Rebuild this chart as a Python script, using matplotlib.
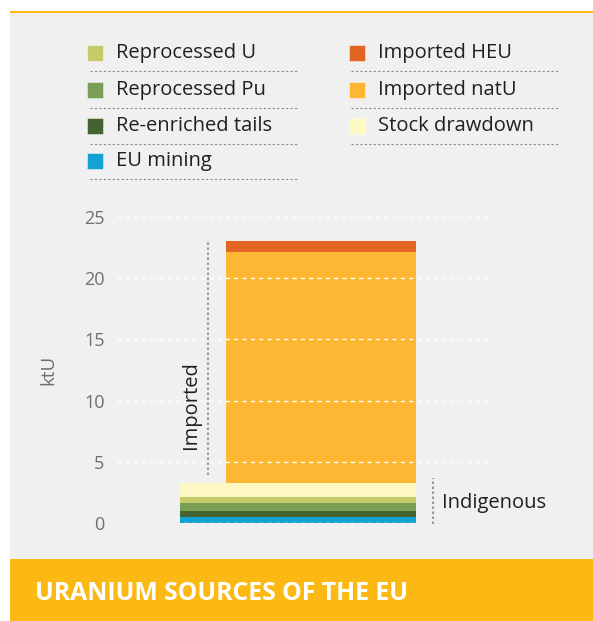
import matplotlib
matplotlib.use("Agg")
import matplotlib.pyplot as plt
from matplotlib.patches import Rectangle
from matplotlib.lines import Line2D

# ---- data (ktU) ----
indigenous_labels = ["EU mining", "Re-enriched tails", "Reprocessed Pu", "Reprocessed U", "Stock drawdown"]
indigenous_values = [0.46, 0.49, 0.65, 0.49, 1.14]
indigenous_colors = ["#12a3d3", "#436330", "#7a9e55", "#c5cb68", "#fef8c2"]

imported_labels = ["Imported natU", "Imported HEU"]
imported_values = [18.9, 0.9]
imported_colors = ["#fdb732", "#e26524"]

yticks = [0, 5, 10, 15, 20, 25]

legend_col1 = ["Reprocessed U", "Reprocessed Pu", "Re-enriched tails", "EU mining"]
legend_col1_colors = ["#c5cb68", "#7a9e55", "#436330", "#12a3d3"]
legend_col2 = ["Imported HEU", "Imported natU", "Stock drawdown"]
legend_col2_colors = ["#e26524", "#fdb732", "#fef8c2"]

title = "URANIUM SOURCES OF THE EU"

W, H = 593, 621
FONT = "Open Sans"
fig = plt.figure(figsize=(W / 100, H / 100), dpi=100)
fig.patch.set_facecolor("white")

def fx(px):
    return px / W

def fy(py):
    return 1 - py / H

# background panel
fig.patches.append(Rectangle((fx(10), fy(559)), fx(583), (559 - 12) / H,
                             transform=fig.transFigure, facecolor="#f0f0f0", edgecolor="none", zorder=-5))
fig.patches.append(Rectangle((fx(10), fy(13)), fx(583), 2 / H,
                             transform=fig.transFigure, facecolor="#fdb913", edgecolor="none", zorder=-4))
# banner
fig.patches.append(Rectangle((fx(10), 0), fx(583), (621 - 559) / H,
                             transform=fig.transFigure, facecolor="#fdb913", edgecolor="none", zorder=-4))
fig.text(fx(35), fy(593), title, color="white", fontsize=17.8, fontweight="bold",
         family=FONT, va="center", ha="left")

# axes
ax_left, ax_right, y0, y25 = 117, 492, 523, 217
ax = fig.add_axes([fx(ax_left), fy(y0), (ax_right - ax_left) / W, (y0 - y25) / H])
ax.set_zorder(2)
ax.set_facecolor("none")
ax.set_xlim(0, ax_right - ax_left)
ax.set_ylim(0, 25)
for s in ax.spines.values():
    s.set_visible(False)
ax.set_xticks([])
ax.set_yticks(yticks)
ax.set_yticklabels([str(t) for t in yticks], fontsize=13, color="#6f6f6f", family=FONT)
ax.tick_params(axis="y", length=0, pad=9)
ax.set_ylabel("ktU", fontsize=13.5, color="#6f6f6f", family=FONT, labelpad=19)

# bars
ind_left, ind_w = 180 - ax_left, 236
imp_left, imp_w = 226 - ax_left, 190
bottom = 0
for v, c in zip(indigenous_values, indigenous_colors):
    ax.bar(ind_left, v, width=ind_w, bottom=bottom, align="edge", color=c, zorder=2, linewidth=0)
    bottom += v
ind_total = bottom
for v, c in zip(imported_values, imported_colors):
    ax.bar(imp_left, v, width=imp_w, bottom=bottom, align="edge", color=c, zorder=2, linewidth=0)
    bottom += v
total = bottom

# grid over bars
for t in yticks:
    ax.axhline(t, color="white", lw=1.0, ls=(0, (3, 3)), zorder=3)

# brackets
imp_x = 208 - ax_left
ax.plot([imp_x, imp_x], [ind_total + 0.7, total - 0.1], color="#9a9a9a", lw=1.5,
        ls=(0, (1.2, 1.2)), zorder=3, clip_on=False)
ax.text(imp_x - 7, 9.6, "Imported", rotation=90, ha="right", va="center",
        fontsize=14.5, color="#231f20", family=FONT)
ind_x = 433 - ax_left
ax.plot([ind_x, ind_x], [-0.1, ind_total + 0.45], color="#9a9a9a", lw=1.5,
        ls=(0, (1.2, 1.2)), zorder=3, clip_on=False)
ax.text(ind_x + 9, 1.6, "Indigenous", ha="left", va="center",
        fontsize=14.5, color="#231f20", family=FONT, clip_on=False)

# legend
rows_y = [53, 90, 126, 161]

def legend_col(items, colors, sq_x, txt_x, sep_x0, sep_x1):
    for i, (lab, col) in enumerate(zip(items, colors)):
        yc = rows_y[i]
        fig.patches.append(Rectangle((fx(sq_x), fy(yc + 8)), 16 / W, 16 / H,
                                     transform=fig.transFigure, facecolor=col,
                                     edgecolor="white", lw=0.6, ls=(0, (1, 1)), zorder=2))
        fig.text(fx(txt_x), fy(yc), lab, fontsize=14.5, color="#231f20", family=FONT,
                 va="center", ha="left")
        sep_y = yc + 18
        fig.lines.append(Line2D([fx(sep_x0), fx(sep_x1)], [fy(sep_y), fy(sep_y)],
                                transform=fig.transFigure, color="#8a8a8a", lw=0.8,
                                ls=(0, (2, 2))))

legend_col(legend_col1, legend_col1_colors, 87, 116, 90, 298)
legend_col(legend_col2, legend_col2_colors, 349, 378, 351, 560)

fig.savefig("out.png", dpi=100, facecolor=fig.get_facecolor())
